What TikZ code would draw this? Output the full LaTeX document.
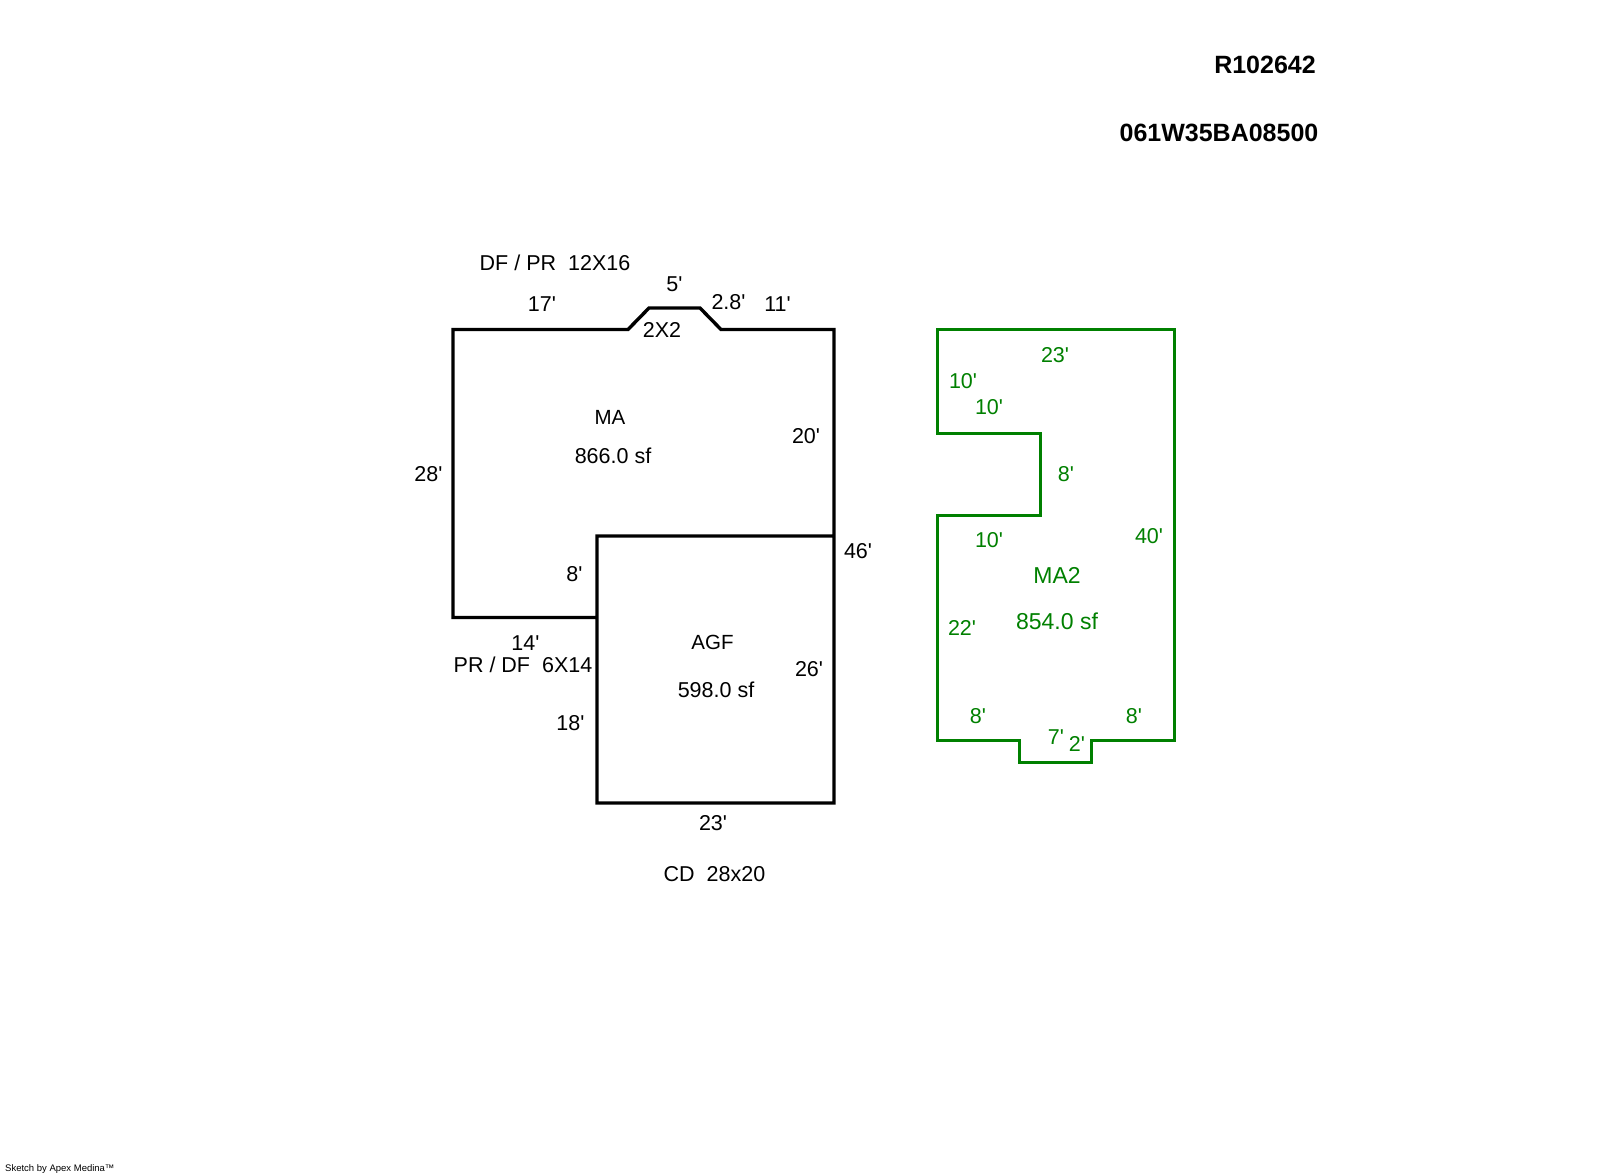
\documentclass[tikz,border=0pt]{standalone}
\usepackage{fontspec}
\newfontfamily\planfont{Liberation Sans}
\begin{document}
\begin{tikzpicture}[x=1pt,y=-1pt,
		wall/.style={line width=3.4pt,line join=miter},
		dimtext/.style={font=\planfont\fontsize{21.5}{24}\selectfont,anchor=base,yshift=-7.7pt,xshift=1pt,inner sep=0pt},
		areatext/.style={dimtext,font=\planfont\fontsize{23}{26}\selectfont},
		headtext/.style={font=\planfont\bfseries\fontsize{25}{28}\selectfont,anchor=base,yshift=-8.7pt,inner sep=0pt}]
		\useasboundingbox (0,0) rectangle (1600,1174);
		\definecolor{plangreen}{RGB}{0,128,0}
		\node[headtext] (parcel) at (1265,64.5) {R102642};
		\node[headtext] (mapno) at (1219,133) {061W35BA08500};
		\draw[wall] (597,617.5) -- (453,617.5) -- (453,329.5) -- (628,329.5) -- (649,308) -- (700,308) -- (721,329.5) -- (834,329.5) -- (834,803) -- (597,803) -- (597,536) -- (834,536);
		\draw[wall,plangreen,line width=3pt] (937,329.5) -- (1174,329.5) -- (1174,740.5) -- (1091,740.5) -- (1091,762) -- (1019,762) -- (1019,740.5) -- (937,740.5) -- (937,515) -- (1040,515) -- (1040,433) -- (937,433) -- cycle;
		\foreach \name/\x/\y/\txt in {
			deck/554/263/{DF / PR\ \ 12X16},
			notchtop/673.5/284/5',
			topleft/541/304/17',
			notchside/727.5/302/2.8',
			topright/776.5/304/11',
			notchsize/661/329.5/2X2,
			maarea/612/456/866.0 sf,
			maright/805/436/20',
			maleft/427.5/473.5/28',
			rightall/857/551/46',
			step/573.5/573.5/8',
			porchlen/524.5/643/14',
			porch/522/665/{PR / DF\ \ 6X14},
			agfarea/715/690/598.0 sf,
			agfright/808/668.5/26',
			agfleft/569.5/722.5/18',
			agfbottom/712/822.5/23',
			carport/713.5/874/{CD\ \ 28x20}} {
			\node[dimtext] (lbl-\name) at (\x,\y) {\txt};
		};
		\node[dimtext,font=\planfont\fontsize{20.5}{24}\selectfont] (lbl-ma) at (609,416.5) {MA};
		\node[dimtext,font=\planfont\fontsize{20.5}{24}\selectfont] (lbl-agf) at (711.5,642) {AGF};
		\foreach \name/\x/\y/\txt in {
			top/1054/355/23',
			left/962/380.5/10',
			inset/988/407/10',
			gap/1065/473.5/8',
			right/1148/536/40',
			lower/988/540/10',
			leftlow/961/627.5/22',
			botl/977/716/8',
			botr/1133/716/8',
			bay/1055/737/7',
			baydepth/1076/744/2'} {
			\node[dimtext,text=plangreen] (up-\name) at (\x,\y) {\txt};
		};
		\node[areatext,text=plangreen] (up-ma) at (1056,576) {MA2};
		\node[areatext,text=plangreen] (up-area) at (1056,622) {854.0 sf};
		\node[font=\planfont\fontsize{9.5}{11}\selectfont,anchor=west,inner sep=0pt] (credit) at (5,1169) {Sketch by Apex Medina™};
	\end{tikzpicture}
\end{document}
